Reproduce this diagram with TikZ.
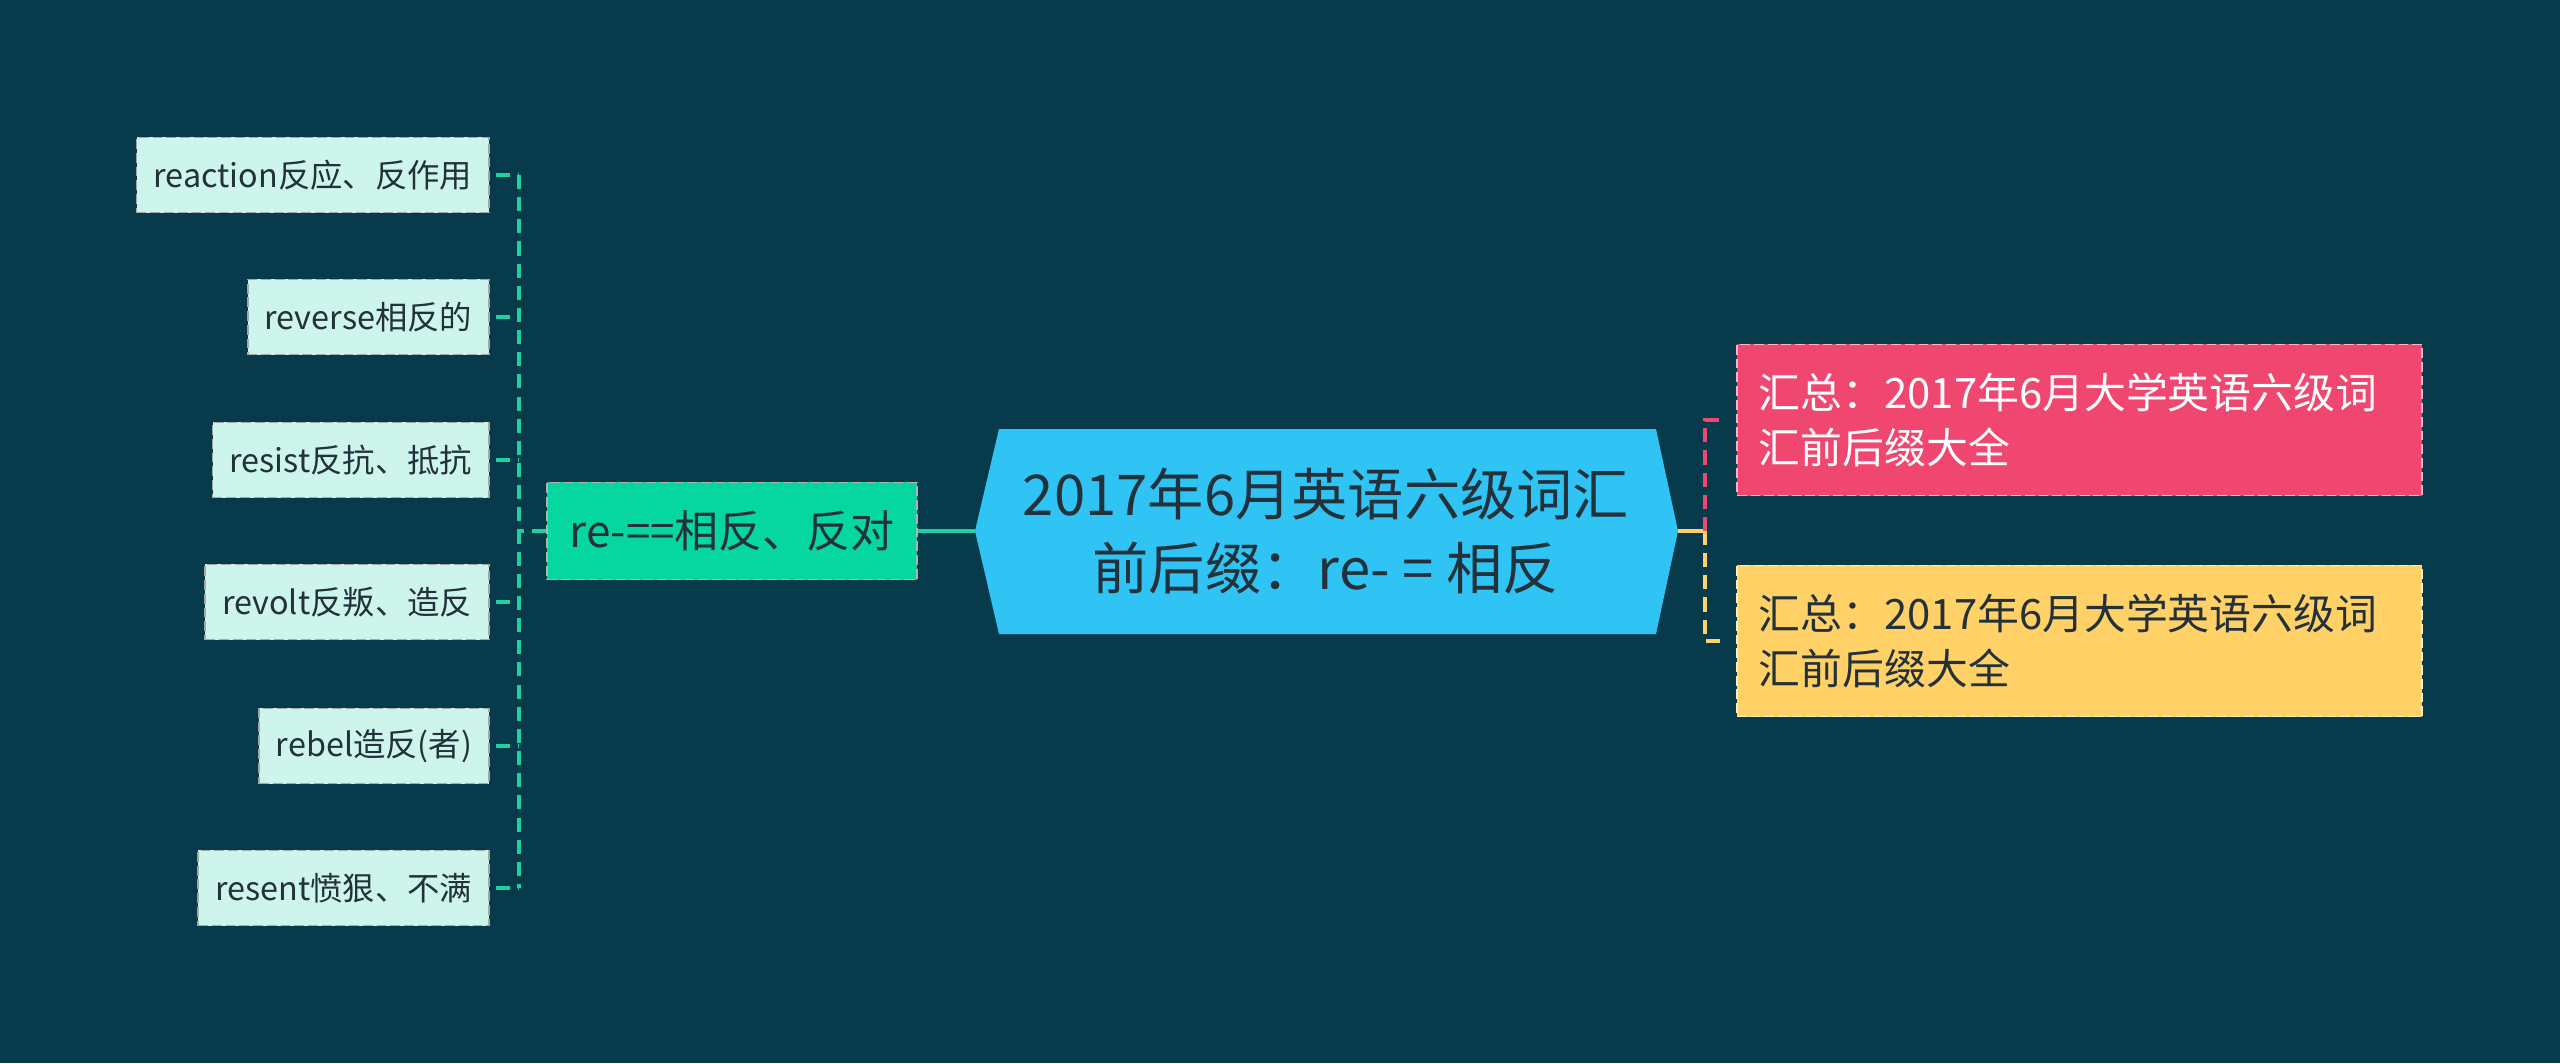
\documentclass[tikz,border=0pt]{standalone}
\usepackage{fontspec}
\setmainfont{Noto Sans CJK SC}
\definecolor{bg}{HTML}{073B4C}
\definecolor{rootfill}{HTML}{30C4F5}
\definecolor{branchfill}{HTML}{06D6A0}
\definecolor{leaffill}{HTML}{CDF5EB}
\definecolor{pinkfill}{HTML}{EF476F}
\definecolor{yellowfill}{HTML}{FFD166}
\definecolor{darktext}{HTML}{22313A}
\definecolor{linkgreen}{HTML}{22CFA0}
\tikzset{
  box/.style={dashed, dash pattern=on 2.8pt off 1.1pt, line width=0.5pt},
  leaf/.style={box, draw=black!35, fill=leaffill, text=darktext, anchor=east,
    font=\fontsize{9.2}{11}\selectfont, inner xsep=0.17cm, minimum height=0.75cm},
  branch/.style={box, draw=black!30, fill=branchfill, text=darktext,
    font=\fontsize{12.5}{14}\selectfont, inner xsep=0.22cm, minimum height=0.97cm},
  summary/.style={box, draw=white!60!#1, fill=#1, anchor=west, align=left,
    text width=6.41cm, inner xsep=0.22cm, minimum height=1.51cm,
    font=\fontsize{11.9}{15.4}\selectfont},
  roottext/.style={text=darktext, align=center, font=\fontsize{16}{21}\selectfont},
  link/.style={line width=0.9pt},
  dashlink/.style={link, dash pattern=on 4pt off 2.3pt},
}
\begin{document}
\begin{tikzpicture}
\begin{scope}[x=0.01cm,y=-0.01cm]
\useasboundingbox[fill=bg] (0,0) rectangle (2560,1063);

% root
\fill[rootfill] (975,531) -- (999,429) -- (1656,429) -- (1678,531) -- (1656,634) -- (999,634) -- cycle;
\node (root) [roottext] at (1326,531) {2017年6月英语六级词汇\\前后缀：re- = 相反};
\coordinate (hexL) at (975,531);
\coordinate (hexR) at (1678,531);

% branch
\node (re) [branch] at (732,531) {re-==相反、反对};

% words
\node (w1) [leaf] at (490,175) {reaction反应、反作用};
\node (w2) [leaf] at (490,317) {reverse相反的};
\node (w3) [leaf] at (490,460) {resist反抗、抵抗};
\node (w4) [leaf] at (490,602) {revolt反叛、造反};
\node (w5) [leaf] at (490,746) {rebel造反(者)};
\node (w6) [leaf] at (490,888) {resent愤狠、不满};

% summaries
\node (s1) [summary=pinkfill, text=white] at (1736,420) {汇总：2017年6月大学英语六级词\\汇前后缀大全};
\node (s2) [summary=yellowfill, text=darktext] at (1736,641) {汇总：2017年6月大学英语六级词\\汇前后缀大全};

% links
\coordinate (lspine) at (519,531);
\coordinate (rspine) at (1705,531);
\draw[link, linkgreen, line width=1.1pt] (re.east) -- (hexL);
\draw[dashlink, linkgreen] (re.west) -- (lspine);
\draw[dashlink, linkgreen] (w1.east -| lspine) -- (w6.east -| lspine);
\foreach \i in {1,...,6}
  \draw[dashlink, linkgreen, shorten <=0.06cm] (w\i.east) -- (w\i.east -| lspine);
\draw[link, yellowfill, line width=1.1pt] (hexR) -- (rspine);
\draw[dashlink, pinkfill, shorten >=0.15cm] (rspine) |- (s1.west);
\draw[dashlink, yellowfill, shorten >=0.15cm] (rspine) |- (s2.west);

\end{scope}
\end{tikzpicture}
\end{document}
